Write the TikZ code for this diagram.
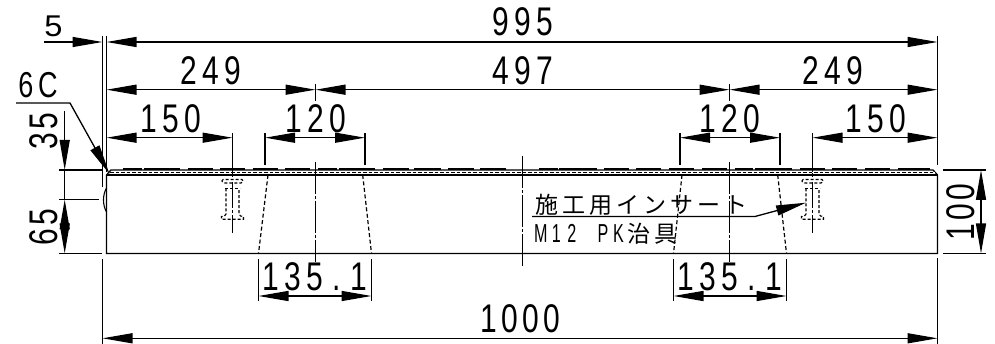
\documentclass[tikz,border=0pt]{standalone}
\usepackage{fontspec}
\usepackage{graphicx}
\usetikzlibrary{arrows.meta}
\newfontfamily\dimfont[FakeStretch=0.75]{Liberation Sans}
\newfontfamily\halffont[FakeStretch=0.62]{Liberation Sans}
\newfontfamily\jpfont[LetterSpace=17]{Noto Sans CJK JP}
\newlength{\monopitch}
\def\mono#1#2{\setlength{\monopitch}{#1pt}\monoX#2\relax}
\def\monoX#1{\ifx#1\relax\else\makebox[\monopitch]{#1}\expandafter\monoX\fi}
\tikzset{
  x=1pt,y=-1pt,
  ln/.style={line width=1.3pt,black},
  thin ln/.style={line width=1.1pt,black},
  hid/.style={line width=1.2pt,black,dash pattern=on 4pt off 2.5pt},
  hidb/.style={line width=1.1pt,black,dash pattern=on 3pt off 2pt},
  ctr/.style={line width=1.3pt,black,dash pattern=on 32pt off 2pt on 3pt off 2pt},
  dim/.style={line width=1.3pt,black,{Triangle[length=30pt,width=10pt]}-{Triangle[length=30pt,width=10pt]}},
  dimr/.style={line width=1.3pt,black,-{Triangle[length=30pt,width=10pt]}},
  txt/.style={inner sep=0pt,outer sep=0pt,font=\dimfont\fontsize{40}{40}\selectfont,text=black},
  pad/.style={line width=1.7pt,black},
}
\begin{document}
\begin{tikzpicture}
\useasboundingbox (0,0) rectangle (995,344);
\fill[white] (0,0) rectangle (995,344);
\coordinate (LO) at (102.5,42); \coordinate (LI) at (106.5,42); \coordinate (RT) at (937.5,42);
% extension lines
\draw[line width=1.2pt] (102.5,36) -- (102.5,187);
\draw[line width=1.2pt] (106.5,36) -- (106.5,172);
\draw[ln] (937.5,36) -- (937.5,165);
\draw[ln] (102.5,259) -- (102.5,344);
\draw[ln] (937.5,258) -- (937.5,344);
\draw[ln] (315.5,84) -- (315.5,101);
\draw[ln] (729.5,84) -- (729.5,101);
\draw[ln] (265,133) -- (265,165);
\draw[ln] (365,133) -- (365,165);
\draw[ln] (680,133) -- (680,165);
\draw[ln] (780,133) -- (780,165);
\draw[ln] (232.5,133) -- (232.5,177);
\draw[ln] (812.5,133) -- (812.5,177);
\draw[ln] (258.5,259) -- (258.5,301.5);
\draw[ln] (371.5,259) -- (371.5,301.5);
\draw[ln] (673.5,259) -- (673.5,301.5);
\draw[ln] (786.5,259) -- (786.5,301.5);
\draw[ln] (59,170) -- (102.5,170);
\draw[ln] (59,199.5) -- (99,199.5);
\draw[ln] (59,253.5) -- (102,253.5);
\draw[ln] (943,170) -- (986,170);
\draw[ln] (943,253.5) -- (986,253.5);
% body
\draw[ln] (106.5,175) -- (106.5,253.5) -- (937.5,253.5) -- (937.5,175) -- (933,170) -- (111,170) -- cycle;
\draw[ln] (106.5,175) -- (937.5,175);
\draw[line width=1.1pt,white] (110,172.6) -- (935,172.6);
\draw[line width=1pt,black,dash pattern=on 3.5pt off 2pt] (110,172.6) -- (935,172.6);
\draw[thin ln] (106.5,188) .. controls (102.5,195) and (102.5,205) .. (106.5,212);
% pads
\foreach \a/\b in {123/142,144/180,188/213,220/245,253/278,285/310,318/337,339/375,383/409,414/441,448/474,480/506,539/558,559/597,604/629,636/661,669/694,702/727,735/753,755/792,800/825,832/857,865/890,898/930}
  \draw[pad] (\a,168.9) -- (\b,168.9);
% hidden tapers
\draw[hid] (268,175) -- (258.5,253.5);
\draw[hid] (362.7,175) -- (371.5,253.5);
\draw[hid] (682,175) -- (673.5,253.5);
\draw[hid] (777.7,175) -- (786.5,253.5);
% centre lines
\draw[ctr] (315.5,161.7) -- (315.5,261.7);
\draw[ctr] (729.5,161.7) -- (729.5,261.7);
\draw[ctr] (522.5,156) -- (522.5,267);
% bolts
\foreach \c in {232.5,812.5}{
  \begin{scope}[shift={(\c,0)}]
  \draw[hidb,rounded corners=1.5pt] (-10,183) -- (-11,179.5) -- (11,179.5) -- (10,183) -- cycle;
  \draw[hidb] (-7.5,188.5) -- (7.5,188.5);
  \draw[hidb] (-6.5,188.5) -- (-6.5,214) -- (-8,216) -- (-11,216.5) -- (-11,219.3) -- (11,219.3) -- (11,216.5) -- (8,216) -- (6.5,214) -- (6.5,188.5);
  \draw[line width=1.2pt,black,dash pattern=on 26pt off 2pt on 3pt off 2pt] (0,182) -- (0,233);
  \end{scope}
}
% horizontal dimensions
\draw[dimr] (44,42) -- (102.5,42);
\draw[dim] (LI) -- (RT);
\draw[dim] (106.5,89.7) -- (315.5,89.7);
\draw[dim] (315.5,89.7) -- (729.5,89.7);
\draw[dim] (729.5,89.7) -- (937.5,89.7);
\draw[dim] (106.5,137.7) -- (232.5,137.7);
\draw[dim] (265,137.7) -- (365,137.7);
\draw[dim] (680,137.7) -- (780,137.7);
\draw[dim] (812.5,137.7) -- (937.5,137.7);
\draw[dim] (258.5,296) -- (371.5,296);
\draw[dim] (673.5,296) -- (786.5,296);
\draw[dim] (102.5,338.3) -- (937.5,338.3);
% vertical dimensions
\draw[dimr] (64.7,111) -- (64.7,170);
\draw[dim] (64.7,199.5) -- (64.7,253.5);
\draw[line width=1.3pt] (64.7,170) -- (64.7,199.5);
\draw[dim] (981,170) -- (981,253.5);
% leaders
\draw[dimr] (16,103) -- (70,103) -- (109.5,174);
\draw[dimr] (532,216.5) -- (755,216.5) -- (806,202.7);
% texts
\node[txt] (t995) at (522.5,22) {\mono{22}{995}};
\node[inner sep=0pt,font=\dimfont\fontsize{30}{30}\selectfont] (t5) at (53.5,26.5) {\scalebox{1.45}[1]{5}};
\node[inner sep=0pt,font=\dimfont\fontsize{36}{36}\selectfont] (t6c) at (37,85) {\mono{22}{6C}};
\node[txt] (t249a) at (211,71) {\mono{22}{249}};
\node[txt] (t497) at (522.5,71) {\mono{22}{497}};
\node[txt] (t249b) at (833,71) {\mono{22}{249}};
\node[txt] (t150a) at (171,119) {\mono{22}{150}};
\node[txt] (t120a) at (316,119) {\mono{22}{120}};
\node[txt] (t120b) at (730,119) {\mono{22}{120}};
\node[txt] (t150b) at (876,119) {\mono{22}{150}};
\node[txt] (t135a) at (315,277) {\mono{22}{135.1}};
\node[txt] (t135b) at (729.5,277) {\mono{22}{135.1}};
\node[txt] (t1000) at (520,319) {\mono{21}{1000}};
\node[txt,rotate=90] (t35) at (44,131) {\mono{20}{35}};
\node[txt,rotate=90] (t65) at (44,227) {\mono{20}{65}};
\node[txt,rotate=90] (t100) at (961,212) {\mono{20}{100}};
\node[inner sep=0pt,anchor=west,font=\jpfont\fontsize{23}{23}\selectfont] (tj) at (535.5,205) {施工用インサート};
\node[inner sep=0pt,anchor=west,font=\halffont\fontsize{26}{26}\selectfont] (tm) at (533,233.5) {\mono{15.5}{M12~PK}};
\node[inner sep=0pt,anchor=west,font=\jpfont\fontsize{23}{23}\selectfont] (tm2) at (627,233.5) {治具};
\end{tikzpicture}
\end{document}
